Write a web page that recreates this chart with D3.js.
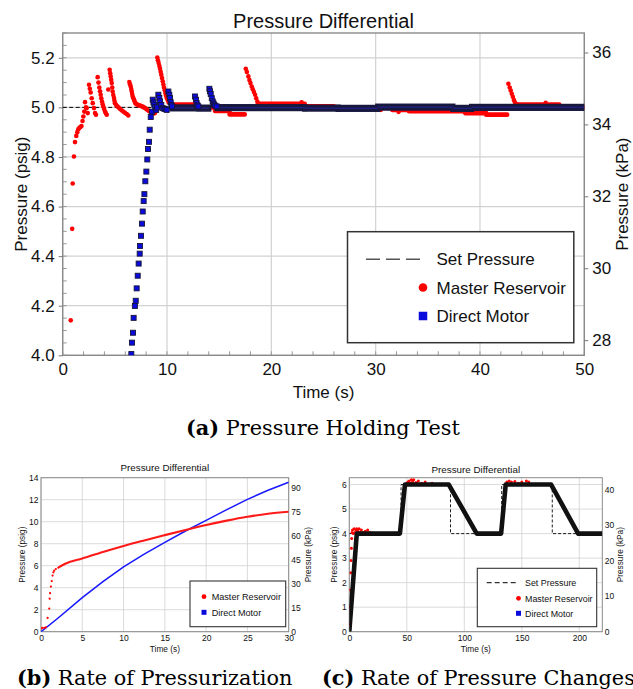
<!DOCTYPE html>
<html>
<head>
<meta charset="utf-8">
<script src="https://cdn.jsdelivr.net/npm/d3@7/dist/d3.min.js"></script>
<style>
  body { margin: 0; background: #fff; }
  svg { display: block; }
</style>
</head>
<body>
<script>
// ---------- data ----------
const KPA_PER_PSI = 6.89476;

// (a) pressure holding test
const holdSetPressure = 5.0;
// Master Reservoir, individual samples [time s, psig]
const holdReservoir = [
  [0.77,4.141],[0.91,4.51],[0.96,4.693],[1.08,4.802],[1.18,4.86],[1.30,4.885],[1.40,4.900],[1.50,4.912],
  [1.60,4.918],[1.70,4.921],[1.80,4.925],[1.90,4.945],[1.98,4.963],[2.07,4.983],[2.14,5.021],[2.23,5.000],
  [2.30,4.997],[2.40,4.977],
  [2.52,5.091],[2.60,5.075],[2.68,5.06],[2.78,5.037],[2.88,5.017],[3.0,4.997],[3.1,4.977],[3.19,4.970],
  [3.35,5.122],[3.43,5.10],[3.51,5.08],[3.58,5.065],[3.64,5.051],[3.70,5.037],[3.77,5.024],[3.83,5.013],
  [3.89,5.004],[3.97,4.993],[4.06,4.983],[4.14,4.976],[4.22,4.970],
  [4.37,5.072],
  [4.50,5.152],[4.55,5.138],[4.60,5.125],[4.65,5.111],[4.70,5.098],[4.75,5.08],[4.79,5.064],[4.85,5.05],
  [4.92,5.038],[4.96,5.027],[5.01,5.017],[5.12,5.01],[5.24,5.004],[5.36,4.999],[5.49,4.994],[5.65,4.988],
  [5.81,4.983],[5.97,4.978],[6.14,4.973],[6.29,4.967],
  [6.39,5.102],[6.45,5.093],[6.52,5.084],[6.57,5.074],[6.62,5.064],[6.66,5.054],[6.71,5.044],[6.78,5.037],
  [6.84,5.031],[6.90,5.024],[6.96,5.017],[7.05,5.014],[7.15,5.011],[7.28,5.009],[7.41,5.007],[7.54,5.005],
  [7.67,5.003],[7.78,5.0],[7.89,4.997],[8.0,4.994],[8.11,4.990],[8.24,4.986],[8.37,4.983],[8.50,4.980],
  [8.62,4.977],[8.74,4.976],[8.84,4.977],[8.95,4.985],
  [9.07,5.201],[9.13,5.19],[9.20,5.179],[9.27,5.167],[9.33,5.156],[9.39,5.144],[9.45,5.132],[9.52,5.118],
  [9.59,5.105],[9.65,5.092],[9.71,5.080],[9.78,5.069],[9.84,5.058],[9.90,5.048],[9.97,5.038],[10.06,5.03],
  [10.16,5.021],[10.3,5.016],[10.45,5.013],
  [17.55,5.156],[17.65,5.143],[17.8,5.125],[17.9,5.11],[18.0,5.098],[18.12,5.084],[18.22,5.073],
  [18.33,5.062],[18.44,5.051],[18.55,5.037],[18.66,5.024],
  [22.9,5.02],[30.5,4.99],[32.2,4.982],
  [42.72,5.095],[42.85,5.08],[42.95,5.068],[43.05,5.055],[43.15,5.043],[43.25,5.03],[43.35,5.02],[43.5,5.012],
  [46.3,5.018]
];
// Master Reservoir, stretches where the samples merge into a band [from s, to s, psig]
const holdReservoirRuns = [
  [10.5,12.8,5.011],[12.8,14.6,5.0],[14.6,16.0,4.986],[16.0,17.45,4.972],[18.7,23.2,5.014],
  [23.2,26.0,5.004],[26.0,31.6,4.998],[31.6,33.2,4.99],[33.2,38.6,4.985],[38.6,40.6,4.977],
  [40.6,42.6,4.971],[43.5,47.6,5.011],[47.6,50,5.0]
];
// Direct Motor, individual samples
const holdMotor = [
  [6.58,4.005],[6.64,4.051],[6.74,4.091],[6.80,4.151],[6.92,4.199],[7.00,4.220],[7.09,4.270],[7.19,4.321],
  [7.28,4.370],[7.38,4.410],[7.41,4.441],[7.51,4.482],[7.60,4.531],[7.67,4.580],[7.76,4.622],[7.83,4.650],
  [7.92,4.702],[8.02,4.741],[8.11,4.790],[8.18,4.832],[8.27,4.861],[8.34,4.910],[8.44,4.961],
  [8.56,4.983],[8.63,5.031],[8.70,5.02],[8.78,5.011],[8.87,5.0],[8.96,4.99],[9.05,5.0],[9.17,5.051],
  [9.26,5.038],[9.33,5.024],[9.45,5.01],[9.59,4.997],[9.75,4.994],[9.87,4.993],[9.97,4.99],
  [10.13,5.064],[10.22,5.051],[10.29,5.038],[10.35,5.021],[10.42,5.01],[10.48,5.004],
  [12.68,5.044],[12.78,5.031],[12.84,5.017],[12.92,5.008],[13.0,5.004],
  [14.06,5.075],[14.12,5.065],[14.19,5.054],[14.29,5.037],[14.38,5.024],[14.45,5.016],[14.51,5.011],
  [14.62,5.007],[14.76,5.004]
];
const holdMotorRuns = [
  [10.5,12.6,4.998],[13.05,14.0,4.997],[14.8,23.2,4.999],[23.2,26.4,4.997],[26.4,30.2,4.996],
  [30.2,37.4,5.001],[37.4,39.2,4.996],[39.2,50,5.0]
];
const holdTimeTicks = [0,10,20,30,40,50];
const holdPsiTicks = [4.0,4.2,4.4,4.6,4.8,5.0,5.2];
const holdKpaTicks = [28,30,32,34,36];

// (b) rate of pressurization
const rateReservoirRamp = [
  [0.0,0.30],[0.2,0.35],[0.4,0.35],[0.6,0.40],[0.8,1.25],[1.0,2.1],[1.05,3.0],[1.1,3.5],[1.2,4.1],
  [1.3,4.6],[1.4,5.1],[1.5,5.4],[1.6,5.55],[1.8,5.7]
];
const rateReservoir = [
  [2.0,5.78],[3,6.2],[5,6.65],[7.5,7.25],[10,7.8],[12.5,8.3],[15,8.78],[17.5,9.25],[20,9.7],
  [22.5,10.1],[25,10.45],[27.5,10.72],[30,10.9]
];
const rateMotor = [
  [0,0],[2,1.2],[5,3.1],[7.5,4.55],[10,5.9],[12.5,7.05],[15,8.12],[17.5,9.15],[20,10.12],
  [22.5,11.1],[25,12.03],[27.5,12.85],[30,13.58]
];
const rateTimeTicks = [0,5,10,15,20,25,30];
const ratePsiTicks = [0,2,4,6,8,10,12,14];
const rateKpaTicks = [0,15,30,45,60,75,90];

// (c) rate of pressure changes
const stepSetPressure = [
  [0,4],[45,4],[45,6],[88,6],[88,4],[132.5,4],[132.5,6],[176.5,6],[176.5,4],[220,4]
];
const stepMotor = [
  [0,0],[6.5,4],[44,4],[48.4,6],[86.5,6],[110.8,4],[132,4],[136,6],[175.5,6],[199,4],[220,4]
];
const stepReservoir = [
  [0.5,0.3],[0.8,1.0],[1.0,1.7],[1.2,2.4],[1.5,2.9],[1.8,3.4],[2.1,3.8],[2.4,4.05],
  [2.8,4.15],[3.5,4.0],[4.2,4.2],[5,4.05],[5.8,4.15],[6.5,4.2],[7.5,4.1],[8.5,4.2],[9.5,4.05],
  [10.5,4.15],[12,4.05],[14,4.1],[16,4.15],[18,4.05],[20,4.02],
  [45,4.3],[46,4.8],[47,5.3],[48,5.7],[49,5.95],[50,6.05],
  [51,6.1],[52,6.15],[53,6.05],[54,6.2],[55,6.1],[56,6.2],[58,6.08],[60,6.15],[63,6.05],[66,6.1],[72,6.05],
  [133,4.3],[134,5.0],[135,5.6],[136,5.95],[137,6.1],[139,6.15],[141,6.1],[144,6.12],[147,6.05],
  [150,6.1],[154,6.15],[156,6.1]
];
const stepTimeTicks = [0,50,100,150,200];
const stepPsiTicks = [0,1,2,3,4,5,6];
const stepKpaTicks = [0,10,20,30,40];

// ---------- drawing ----------
const SANS = "'Liberation Sans', Arial, Helvetica, sans-serif";
const SERIF = "'DejaVu Serif', 'Liberation Serif', serif";
const RED = "#ff0000", BLUE = "#0a0adc";

const svg = d3.select("body").append("svg")
  .attr("width", 633).attr("height", 689)
  .style("font-family", SANS);

let clipCount = 0;

function panel(o) {
  const g = svg.append("g");
  const x = d3.scaleLinear().domain(o.xDomain).range([o.left, o.right]);
  const y = d3.scaleLinear().domain(o.yDomain).range([o.bottom, o.top]);
  const y2 = d3.scaleLinear().domain(o.yDomain.map(v => v * KPA_PER_PSI)).range([o.bottom, o.top]);

  // grid
  g.append("g").selectAll("line").data(o.xTicks).join("line")
    .attr("x1", d => x(d)).attr("x2", d => x(d))
    .attr("y1", o.top).attr("y2", o.bottom)
    .attr("stroke", "#d2d2d2").attr("stroke-width", o.gridWidth);
  g.append("g").selectAll("line").data(o.yTicks).join("line")
    .attr("x1", o.left).attr("x2", o.right)
    .attr("y1", d => y(d)).attr("y2", d => y(d))
    .attr("stroke", "#d2d2d2").attr("stroke-width", o.gridWidth);

  // minor ticks (inward)
  if (o.minor) {
    g.append("g").selectAll("line").data(x.ticks(o.minor.x)).join("line")
      .attr("x1", d => x(d)).attr("x2", d => x(d))
      .attr("y1", o.bottom).attr("y2", o.bottom - 4)
      .attr("stroke", "#999");
    g.append("g").selectAll("line").data(y.ticks(o.minor.y)).join("line")
      .attr("x1", o.left).attr("x2", o.left + 4)
      .attr("y1", d => y(d)).attr("y2", d => y(d))
      .attr("stroke", "#999");
  }

  // frame
  g.append("rect")
    .attr("x", o.left).attr("y", o.top)
    .attr("width", o.right - o.left).attr("height", o.bottom - o.top)
    .attr("fill", "none").attr("stroke", "#8a8a8a").attr("stroke-width", o.frameWidth);

  const fmt = o.yFormat || d3.format("d");
  const styleAxis = (sel) => {
    sel.select(".domain").remove();
    sel.selectAll(".tick line").attr("stroke", "#777");
    sel.selectAll(".tick text").attr("fill", "#111").style("font-size", o.tickFont + "px")
      .style("font-family", SANS);
  };
  g.append("g").attr("transform", `translate(0,${o.bottom})`)
    .call(d3.axisBottom(x).tickValues(o.xTicks).tickFormat(d3.format("d"))
      .tickSize(0).tickPadding(o.xPad))
    .call(styleAxis);
  g.append("g").attr("transform", `translate(${o.left},0)`)
    .call(d3.axisLeft(y).tickValues(o.yTicks).tickFormat(fmt)
      .tickSize(o.tick).tickPadding(o.yPad))
    .call(styleAxis);
  g.append("g").attr("transform", `translate(${o.right},0)`)
    .call(d3.axisRight(y2).tickValues(o.y2Ticks).tickFormat(d3.format("d"))
      .tickSize(o.tick).tickPadding(o.yPad))
    .call(styleAxis);

  // texts
  const cx = (o.left + o.right) / 2, cy = (o.top + o.bottom) / 2;
  g.append("text").attr("x", cx).attr("y", o.titleY).attr("text-anchor", "middle")
    .style("font-size", o.titleFont + "px").attr("fill", "#111").text("Pressure Differential");
  g.append("text").attr("x", cx).attr("y", o.xLabelY).attr("text-anchor", "middle")
    .style("font-size", o.labelFont + "px").attr("fill", "#111").text("Time (s)");
  g.append("text").attr("transform", `translate(${o.yLabelX},${cy}) rotate(-90)`)
    .attr("text-anchor", "middle").style("font-size", o.labelFont + "px").attr("fill", "#111")
    .text("Pressure (psig)");
  g.append("text").attr("transform", `translate(${o.y2LabelX},${cy}) rotate(-90)`)
    .attr("text-anchor", "middle").style("font-size", o.labelFont + "px").attr("fill", "#111")
    .text("Pressure (kPa)");

  const id = "clip" + (clipCount++);
  svg.append("clipPath").attr("id", id).append("rect")
    .attr("x", o.left).attr("y", o.top)
    .attr("width", o.right - o.left).attr("height", o.bottom - o.top);
  const plot = svg.append("g").attr("clip-path", `url(#${id})`);
  return { x, y, plot, o };
}

function legend(o) {
  const g = svg.append("g");
  g.append("rect").attr("x", o.x0).attr("y", o.y0)
    .attr("width", o.x1 - o.x0).attr("height", o.y1 - o.y0)
    .attr("fill", "#fff").attr("stroke", "#333").attr("stroke-width", o.border);
  o.rows.forEach(r => {
    if (r.kind === "dash") {
      g.append("line").attr("x1", o.dashFrom).attr("x2", o.dashTo)
        .attr("y1", r.y).attr("y2", r.y)
        .attr("stroke", o.dashColor).attr("stroke-width", o.dashWidth)
        .attr("stroke-dasharray", o.dashArray);
    } else if (r.kind === "dot") {
      g.append("circle").attr("cx", o.markX).attr("cy", r.y).attr("r", o.dotR).attr("fill", RED);
    } else {
      g.append("rect").attr("x", o.markX - o.sq / 2).attr("y", r.y - o.sq / 2)
        .attr("width", o.sq).attr("height", o.sq).attr("fill", BLUE);
    }
    g.append("text").attr("x", o.textX).attr("y", r.y).attr("dy", "0.36em")
      .style("font-size", o.font + "px").attr("fill", "#111").text(r.label);
  });
}

// ----- (a) -----
const A = panel({
  left: 62.7, right: 584.3, top: 33, bottom: 355.3,
  xDomain: [0, 50], yDomain: [4, 5.3],
  xTicks: holdTimeTicks, yTicks: holdPsiTicks, y2Ticks: holdKpaTicks,
  yFormat: d3.format(".1f"), minor: { x: 25, y: 26 },
  tick: 4, xPad: 8, yPad: 4, tickFont: 17, labelFont: 17, titleFont: 20,
  gridWidth: 1.2, frameWidth: 1.4,
  titleY: 28, xLabelY: 398, yLabelX: 27, y2LabelX: 628
});
A.plot.append("line")
  .attr("x1", A.x(0)).attr("x2", A.x(50))
  .attr("y1", A.y(holdSetPressure)).attr("y2", A.y(holdSetPressure))
  .attr("stroke", "#000").attr("stroke-width", 1).attr("stroke-dasharray", "4,2.5");
A.plot.append("g").selectAll("rect").data(holdReservoirRuns).join("rect")
  .attr("x", d => A.x(d[0]) - 2.3).attr("width", d => A.x(d[1]) - A.x(d[0]) + 4.6)
  .attr("y", d => A.y(d[2]) - 2.4).attr("height", 4.8).attr("rx", 2.3)
  .attr("fill", RED);
A.plot.append("g").selectAll("circle").data(holdReservoir).join("circle")
  .attr("cx", d => A.x(d[0])).attr("cy", d => A.y(d[1])).attr("r", 2.3)
  .attr("fill", RED);
A.plot.append("g").selectAll("rect").data(holdMotorRuns).join("rect")
  .attr("x", d => A.x(d[0]) - 2.6).attr("width", d => A.x(d[1]) - A.x(d[0]) + 5.2)
  .attr("y", d => A.y(d[2]) - 3.6).attr("height", 7.2)
  .attr("fill", "#18183f");
A.plot.append("g").selectAll("rect").data(holdMotorRuns).join("rect")
  .attr("x", d => A.x(d[0])).attr("width", d => A.x(d[1]) - A.x(d[0]))
  .attr("y", d => A.y(d[2]) - 0.7).attr("height", 1.4)
  .attr("fill", "#2626a8").attr("opacity", 0.6);
A.plot.append("g").selectAll("rect").data(holdMotor).join("rect")
  .attr("x", d => A.x(d[0]) - 2.5).attr("y", d => A.y(d[1]) - 2.5)
  .attr("width", 5).attr("height", 5)
  .attr("fill", BLUE).attr("stroke", "#15153a").attr("stroke-width", 0.9);
legend({
  x0: 347.5, y0: 231.7, x1: 573.8, y1: 342.7, border: 1.5,
  rows: [
    { kind: "dash", y: 259.3, label: "Set Pressure" },
    { kind: "dot", y: 287.5, label: "Master Reservoir" },
    { kind: "square", y: 316, label: "Direct Motor" }
  ],
  dashFrom: 366, dashTo: 420, dashColor: "#555", dashWidth: 1.6, dashArray: "14,6",
  markX: 423, dotR: 4.3, sq: 8.5, textX: 436.5, font: 17
});

// ----- (b) -----
const B = panel({
  left: 41, right: 288.7, top: 477.7, bottom: 631.7,
  xDomain: [0, 30], yDomain: [0, 14],
  xTicks: rateTimeTicks, yTicks: ratePsiTicks, y2Ticks: rateKpaTicks,
  tick: 0, xPad: 3, yPad: 2.5, tickFont: 8.5, labelFont: 8.3, titleFont: 9.8,
  gridWidth: 0.8, frameWidth: 1,
  titleY: 471, xLabelY: 652, yLabelX: 25.3, y2LabelX: 310.8
});
const lineB = d3.line().x(d => B.x(d[0])).y(d => B.y(d[1]));
B.plot.append("path").datum(rateMotor).attr("d", lineB)
  .attr("fill", "none").attr("stroke", "#1a1aff").attr("stroke-width", 1.6);
B.plot.append("g").selectAll("circle").data(rateReservoirRamp).join("circle")
  .attr("cx", d => B.x(d[0])).attr("cy", d => B.y(d[1])).attr("r", 1.1).attr("fill", RED);
B.plot.append("path").datum(rateReservoir).attr("d", lineB.curve(d3.curveMonotoneX))
  .attr("fill", "none").attr("stroke", "#ff1a1a").attr("stroke-width", 2.1);
legend({
  x0: 190, y0: 581, x1: 285.7, y1: 626.7, border: 1.1,
  rows: [
    { kind: "dot", y: 596.7, label: "Master Reservoir" },
    { kind: "square", y: 612.3, label: "Direct Motor" }
  ],
  markX: 204, dotR: 2.4, sq: 5, textX: 211.7, font: 9.1
});

// ----- (c) -----
const C = panel({
  left: 349.3, right: 602.3, top: 477.7, bottom: 631.7,
  xDomain: [0, 220], yDomain: [0, 6.28],
  xTicks: stepTimeTicks, yTicks: stepPsiTicks, y2Ticks: stepKpaTicks,
  tick: 0, xPad: 3, yPad: 2.5, tickFont: 8.5, labelFont: 8.3, titleFont: 9.8,
  gridWidth: 0.8, frameWidth: 1,
  titleY: 472.5, xLabelY: 652, yLabelX: 336.6, y2LabelX: 623.2
});
const lineC = d3.line().x(d => C.x(d[0])).y(d => C.y(d[1]));
C.plot.append("path").datum(stepSetPressure).attr("d", lineC)
  .attr("fill", "none").attr("stroke", "#000").attr("stroke-width", 0.9)
  .attr("stroke-dasharray", "3,2");
C.plot.append("g").selectAll("circle").data(stepReservoir).join("circle")
  .attr("cx", d => C.x(d[0])).attr("cy", d => C.y(d[1])).attr("r", 1.5).attr("fill", RED);
C.plot.append("path").datum(stepMotor).attr("d", lineC)
  .attr("fill", "none").attr("stroke", "#111").attr("stroke-width", 4.6)
  .attr("stroke-linejoin", "round");
legend({
  x0: 477.3, y0: 568.3, x1: 596.7, y1: 626.7, border: 1.1,
  rows: [
    { kind: "dash", y: 582.7, label: "Set Pressure" },
    { kind: "dot", y: 598.3, label: "Master Reservoir" },
    { kind: "square", y: 613.3, label: "Direct Motor" }
  ],
  dashFrom: 486.7, dashTo: 516.7, dashColor: "#000", dashWidth: 1, dashArray: "5,3",
  markX: 518.5, dotR: 2.4, sq: 5, textX: 525, font: 8.9
});

// ----- sub-figure captions -----
function caption(x, y, tag, rest, size) {
  const t = svg.append("text").attr("x", x).attr("y", y)
    .style("font-family", SERIF).style("font-size", size + "px").attr("fill", "#000");
  t.append("tspan").style("font-weight", "bold").text(tag);
  t.append("tspan").text(" " + rest);
  return t;
}
// size the serif captions so that (a) spans the same width as in the figure
const probe = caption(0, -100, "(a)", "Pressure Holding Test", 20);
const capSize = 20 * 274 / probe.node().getComputedTextLength();
probe.remove();
caption(186, 435, "(a)", "Pressure Holding Test", capSize);
caption(17, 685, "(b)", "Rate of Pressurization", capSize);
caption(322, 685, "(c)", "Rate of Pressure Changes", capSize);
</script>
</body>
</html>
